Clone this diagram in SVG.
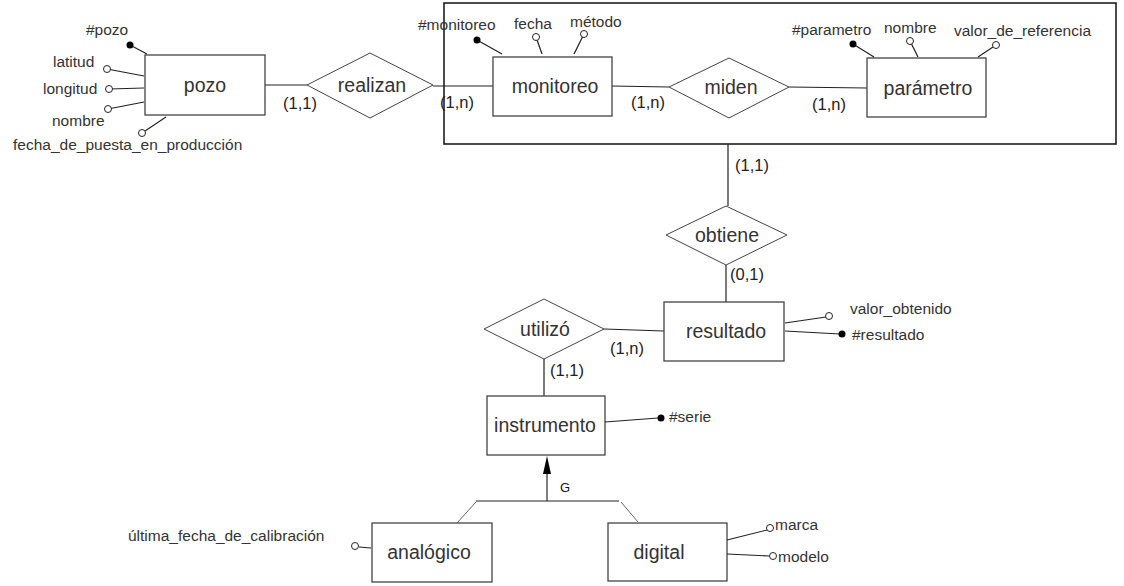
<svg xmlns="http://www.w3.org/2000/svg" width="1124" height="586" viewBox="0 0 1124 586">
<style>
.ent{fill:#fff;stroke:#444;stroke-width:1.3}
.rel{fill:#fff;stroke:#444;stroke-width:1}
.ln{stroke:#222;stroke-width:1.2;fill:none}
.et{font-family:"Liberation Sans",Arial,sans-serif;font-size:19.5px;fill:#333;text-anchor:middle;dominant-baseline:central}
.at{font-family:"Liberation Sans",Arial,sans-serif;font-size:15.5px;fill:#333}
.cd{font-family:"Liberation Sans",Arial,sans-serif;font-size:16.5px;fill:#222}
.key{fill:#000}
.op{fill:#fff;stroke:#222;stroke-width:1}
</style>
<rect width="1124" height="586" fill="#fff"/>
<g id="aggregation"><rect x="444" y="3" width="672" height="141" fill="none" stroke="#111" stroke-width="1.5"/></g>
<g id="connectors">
<line class="ln" x1="265" y1="85" x2="307" y2="85"/>
<line class="ln" x1="433" y1="86" x2="493" y2="86"/>
<line class="ln" x1="612" y1="86" x2="669" y2="87"/>
<line class="ln" x1="789" y1="87" x2="867" y2="88"/>
<line class="ln" x1="728" y1="144" x2="728" y2="206"/>
<line class="ln" x1="726" y1="265" x2="726" y2="302"/>
<line class="ln" x1="604" y1="329" x2="664" y2="331"/>
<line class="ln" x1="544" y1="359" x2="544" y2="396"/>
<line x1="547" y1="501" x2="547" y2="470" stroke="#555" stroke-width="1.5"/>
<polygon points="547,456 543,474 551,474" fill="#000"/>
<line class="ln" x1="476" y1="501" x2="619" y2="501"/>
<line x1="476" y1="502" x2="457" y2="523" stroke="#666" stroke-width="1"/>
<line x1="621" y1="502" x2="638" y2="522" stroke="#666" stroke-width="1"/>
<text class="cd" x="283" y="109">(1,1)</text>
<text class="cd" x="440" y="108">(1,n)</text>
<text class="cd" x="631" y="108">(1,n)</text>
<text class="cd" x="812" y="110">(1,n)</text>
<text class="cd" x="735" y="171">(1,1)</text>
<text class="cd" x="730" y="280">(0,1)</text>
<text class="cd" x="610" y="354">(1,n)</text>
<text class="cd" x="550" y="376">(1,1)</text>
<text x="565" y="492" font-family="Liberation Sans,Arial,sans-serif" font-size="13" fill="#112" text-anchor="middle">G</text>
</g>
<g id="pozo">
<rect class="ent" x="145" y="55" width="120" height="60"/>
<text class="et" x="205" y="85">pozo</text>
<line class="ln" x1="130" y1="45" x2="147" y2="54"/><circle class="key" cx="130" cy="45" r="3.5"/>
<text class="at" x="86" y="35">#pozo</text>
<line class="ln" x1="107" y1="69" x2="144" y2="76"/><circle class="op" cx="107" cy="69" r="3.5"/>
<text class="at" x="53" y="67">latitud</text>
<line class="ln" x1="109" y1="89" x2="144" y2="88"/><circle class="op" cx="109" cy="89" r="3.5"/>
<text class="at" x="43" y="94">longitud</text>
<line class="ln" x1="108" y1="109" x2="144" y2="102"/><circle class="op" cx="108" cy="109" r="3.5"/>
<text class="at" x="52" y="126">nombre</text>
<line class="ln" x1="142" y1="133" x2="166" y2="117"/><circle class="op" cx="142" cy="133" r="3.5"/>
<text class="at" x="13" y="150">fecha_de_puesta_en_producción</text>
</g>
<g id="realizan">
<polygon class="rel" points="307,85 370,53 433,85 370,118"/>
<text class="et" x="372" y="85">realizan</text>
</g>
<g id="monitoreo">
<rect class="ent" x="493" y="57" width="119" height="59"/>
<text class="et" x="555" y="86">monitoreo</text>
<line class="ln" x1="477" y1="40" x2="502" y2="54"/><circle class="key" cx="477" cy="40" r="3.5"/>
<text class="at" x="418" y="30">#monitoreo</text>
<line class="ln" x1="536" y1="37" x2="542" y2="54"/><circle class="op" cx="536" cy="37" r="3.5"/>
<text class="at" x="514" y="29">fecha</text>
<line class="ln" x1="584" y1="34" x2="574" y2="54"/><circle class="op" cx="584" cy="34" r="3.5"/>
<text class="at" x="570" y="27">método</text>
</g>
<g id="miden">
<polygon class="rel" points="669,87 729,58 789,87 729,118"/>
<text class="et" x="731" y="87">miden</text>
</g>
<g id="parametro">
<rect class="ent" x="867" y="58" width="119" height="59"/>
<text class="et" x="928" y="88">parámetro</text>
<line class="ln" x1="853" y1="44" x2="874" y2="57"/><circle class="key" cx="853" cy="44" r="3.5"/>
<text class="at" x="792" y="35">#parametro</text>
<line class="ln" x1="910" y1="41" x2="918" y2="57"/><circle class="op" cx="910" cy="41" r="3.5"/>
<text class="at" x="884" y="33">nombre</text>
<line class="ln" x1="996" y1="45" x2="978" y2="57"/><circle class="op" cx="996" cy="45" r="3.5"/>
<text class="at" x="954" y="36">valor_de_referencia</text>
</g>
<g id="obtiene">
<polygon class="rel" points="666,235 726,206 787,235 726,265"/>
<text class="et" x="727" y="235">obtiene</text>
</g>
<g id="resultado">
<rect class="ent" x="664" y="302" width="120" height="59"/>
<text class="et" x="726" y="331">resultado</text>
<line class="ln" x1="785" y1="323" x2="826" y2="317"/><circle class="op" cx="829" cy="316" r="3.5"/>
<text class="at" x="850" y="314">valor_obtenido</text>
<line class="ln" x1="785" y1="331" x2="840" y2="334"/><circle class="key" cx="842" cy="334" r="3.5"/>
<text class="at" x="852" y="340">#resultado</text>
</g>
<g id="utilizo">
<polygon class="rel" points="484,329 544,299 604,329 544,359"/>
<text class="et" x="545" y="329">utilizó</text>
</g>
<g id="instrumento">
<rect class="ent" x="487" y="396" width="118" height="59"/>
<text class="et" x="545" y="425">instrumento</text>
<line class="ln" x1="605" y1="422" x2="658" y2="418"/><circle class="key" cx="661" cy="418" r="3.5"/>
<text class="at" x="669" y="422">#serie</text>
</g>
<g id="analogico">
<rect class="ent" x="372" y="523" width="120" height="59"/>
<text class="et" x="429" y="552">analógico</text>
<line class="ln" x1="359" y1="547" x2="371" y2="548"/><circle class="op" cx="355" cy="546" r="3.5"/>
<text class="at" x="128" y="541">última_fecha_de_calibración</text>
</g>
<g id="digital">
<rect class="ent" x="608" y="523" width="119" height="58"/>
<text class="et" x="659" y="552">digital</text>
<line class="ln" x1="727" y1="540" x2="767" y2="530"/><circle class="op" cx="770" cy="528" r="3.5"/>
<text class="at" x="775" y="530">marca</text>
<line class="ln" x1="727" y1="554" x2="769" y2="556"/><circle class="op" cx="773" cy="556" r="3.5"/>
<text class="at" x="778" y="562">modelo</text>
</g>
</svg>
